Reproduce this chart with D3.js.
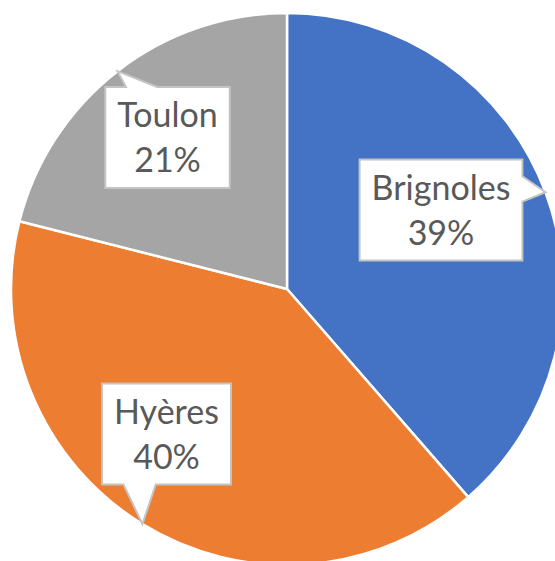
<!DOCTYPE html>
<html>
<head>
<meta charset="utf-8">
<script src="https://cdn.jsdelivr.net/npm/d3@7"></script>
<style>
  body { margin: 0; background: #fff; }
  svg { display: block; }
  .lbl { font-family: Lato, "Liberation Sans", sans-serif; fill: #595959; }
</style>
</head>
<body>
<div id="chart"></div>
<script>
// data
const towns  = ["Brignoles", "Hyères", "Toulon"];
const shares = [38.6, 40.35, 21.05];

// styling / layout
const colours = ["#4472C4", "#ED7D31", "#A5A5A5"];
// callout box centre, relative to the pie centre
const boxOffset = { "Brignoles": [154, -79], "Hyères": [-120.5, 145], "Toulon": [-119.5, -151.5] };

(function() {
  const fullW = 555, fullH = 561;
  const cx = 287, cy = 289, R = 276;
  const fontSize = 34, lineGap = 45, padX = 12, boxH = 101;

  const svg = d3.select("#chart")
    .append("svg")
    .attr("width", fullW)
    .attr("height", fullH);

  const g = svg.append("g").attr("transform", `translate(${cx},${cy})`);

  const data = towns.map((t, i) => ({ town: t, value: shares[i], colour: colours[i] }));
  const total = d3.sum(data, d => d.value);
  const pct = d3.format(".0%");

  const pie = d3.pie().sort(null).value(d => d.value);
  const arc = d3.arc().innerRadius(0).outerRadius(R);
  const arcs = pie(data);

  g.selectAll(".slice")
    .data(arcs)
    .enter()
    .append("path")
    .attr("class", "slice")
    .attr("d", arc)
    .attr("fill", d => d.data.colour)
    .attr("stroke", "#fff")
    .attr("stroke-width", 2.5)
    .attr("stroke-linejoin", "round");

  // wedge-rectangle callouts, same logic as the Office shape
  function calloutPath(x0, y0, w, h, tx, ty) {
    const hc = x0 + w / 2, vc = y0 + h / 2;
    const dxPos = tx - hc, dyPos = ty - vc;
    const dq = dxPos * h / w;
    const dz = Math.abs(dyPos) - Math.abs(dq);
    const x1 = x0 + w * (dxPos > 0 ? 7 : 2) / 12;
    const x2 = x0 + w * (dxPos > 0 ? 10 : 5) / 12;
    const y1 = y0 + h * (dyPos > 0 ? 7 : 2) / 12;
    const y2 = y0 + h * (dyPos > 0 ? 10 : 5) / 12;
    const x3 = x0 + w, y3 = y0 + h;
    const p = d3.path();
    p.moveTo(x0, y0);
    if (dz > 0 && dyPos < 0) { p.lineTo(x1, y0); p.lineTo(tx, ty); p.lineTo(x2, y0); }
    p.lineTo(x3, y0);
    if (dz <= 0 && dxPos > 0) { p.lineTo(x3, y1); p.lineTo(tx, ty); p.lineTo(x3, y2); }
    p.lineTo(x3, y3);
    if (dz > 0 && dyPos > 0) { p.lineTo(x2, y3); p.lineTo(tx, ty); p.lineTo(x1, y3); }
    p.lineTo(x0, y3);
    if (dz <= 0 && dxPos < 0) { p.lineTo(x0, y2); p.lineTo(tx, ty); p.lineTo(x0, y1); }
    p.closePath();
    return p.toString();
  }

  const labelG = g.selectAll(".callout")
    .data(arcs)
    .enter()
    .append("g")
    .attr("class", "callout");

  labelG.each(function(d) {
    const sel = d3.select(this);
    const [bx, by] = boxOffset[d.data.town];
    const mid = (d.startAngle + d.endAngle) / 2;
    const tx = R * Math.sin(mid), ty = -R * Math.cos(mid);

    const shape = sel.append("path");

    const t1 = sel.append("text")
      .attr("class", "lbl")
      .attr("text-anchor", "middle")
      .style("font-size", fontSize + "px")
      .attr("x", bx)
      .attr("y", by - boxH / 2 + 40)
      .text(d.data.town);

    const t2 = sel.append("text")
      .attr("class", "lbl")
      .attr("text-anchor", "middle")
      .style("font-size", fontSize + "px")
      .attr("x", bx)
      .attr("y", by - boxH / 2 + 40 + lineGap)
      .text(pct(d.data.value / total));

    const tw = Math.max(t1.node().getComputedTextLength(), t2.node().getComputedTextLength());
    const w = tw + 2 * padX;

    shape
      .attr("d", calloutPath(bx - w / 2, by - boxH / 2, w, boxH, tx, ty))
      .attr("fill", "#fff")
      .attr("stroke", "#c4c4c4")
      .attr("stroke-width", 2)
      .attr("stroke-linejoin", "miter");
  });
})();
</script>
</body>
</html>
